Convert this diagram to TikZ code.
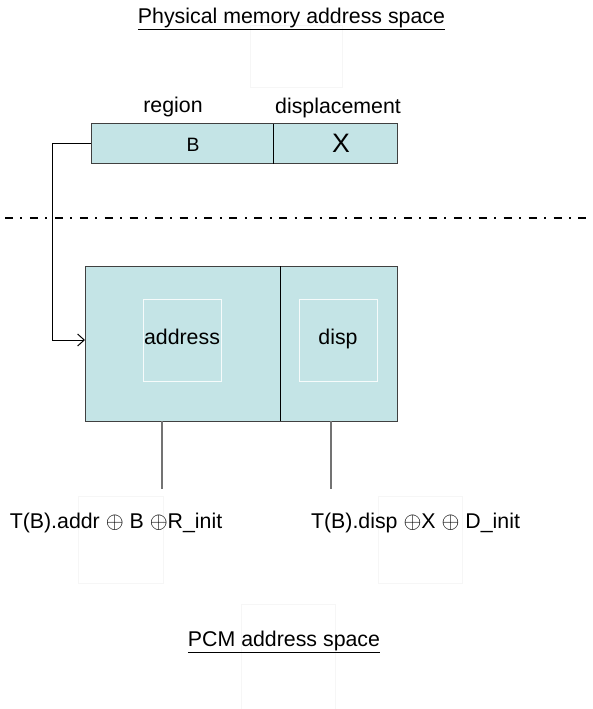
\documentclass[tikz,border=0pt]{standalone}
\usepackage{fontspec}
\setmainfont{Liberation Sans}
\usetikzlibrary{positioning}
\usetikzlibrary{calc}
\usetikzlibrary{arrows.meta}
\definecolor{cellblue}{RGB}{196,228,230}
\definecolor{edgegray}{RGB}{64,64,64}
\definecolor{ghost}{RGB}{246,246,246}
\tikzset{
	x=0.75pt, y=-0.75pt,
	every node/.style={align=center,inner sep=0pt,outer sep=0pt,font=\fontsize{16}{19}\selectfont},
	cell/.style={rectangle, draw=edgegray, fill=cellblue, line width=0.75pt},
	inner/.style={rectangle, draw=white!85!cellblue, line width=0.75pt, minimum width=58.5pt, minimum height=61.5pt, text height=0.72em, text depth=0.04em},
	ghostbox/.style={draw=ghost, line width=0.6pt},
	link/.style={line width=0.75pt},
	stem/.style={draw=black!55, line width=0.9pt},
	barb/.style={-{Straight Barb[length=5pt,width=9pt]}},
	divider/.style={line width=1.5pt, dash pattern=on 6pt off 5.6pt on 1.5pt off 5.6pt}
}
\begin{document}
\begin{tikzpicture}
	\useasboundingbox (0,0) rectangle (592,709);
	% faint boxes
	\draw[ghostbox] (250,25) rectangle (342,87);
	\draw[ghostbox] (78,496) rectangle (163,583);
	\draw[ghostbox] (378,496) rectangle (462,583);
	\draw[ghostbox] (241,604) rectangle (335,709);
	
	% Title
	\node (phys) at (291.5,19) {\underline{Physical memory address space}};
	
	% address word
	\node (regB) at (182,144) [cell, minimum width=136.5pt, minimum height=30pt] {};
	\node (dispX) [cell, right = 0pt of regB, minimum width=93pt, minimum height=30pt] {};
	\draw[line width=0.75pt] (regB.north east) -- (regB.south east);
	\node (B) at (193,145) {\fontsize{14.5}{17}\selectfont B};
	\node (X) at (341,143) {\fontsize{20}{24}\selectfont X};
	\node (region) at (173,107) {region};
	\node (displacement) at (338,108) {displacement};
	
	% separator
	\coordinate (sepL) at (5,218);
	\coordinate (sepR) at (592,218);
	\draw[divider] (sepL) -- (sepR);
	
	% PCM word
	\node (addrcell) at (182.5,343.5) [cell, minimum width=146.25pt, minimum height=116.25pt] {};
	\node (dispcell) [cell, right = 0pt of addrcell, minimum width=87.75pt, minimum height=116.25pt] {};
	\draw[line width=0.75pt] (addrcell.north east) -- (addrcell.south east);
	\node (address) at (182,340) [inner] {address};
	\node (disp) at (338,340) [inner] {disp};
	
	\coordinate (bend) at (52,340);
	\draw[link, barb] (regB.west) -| (bend) -- (addrcell.west |- bend);
	
	% results
	\coordinate (tA) at (162,489);
	\coordinate (tD) at (331,489);
	\draw[stem] (addrcell.south -| tA) -- (tA);
	\draw[stem] (dispcell.south -| tD) -- (tD);
	\node (resA) at (116,523) {T(B).addr $\oplus$ B $\oplus$R\_init};
	\node (resD) at (415.5,523) {T(B).disp $\oplus$X $\oplus$ D\_init};
	
	\node (pcm) at (284,642) {\underline{PCM address space}};
\end{tikzpicture}
\end{document}
